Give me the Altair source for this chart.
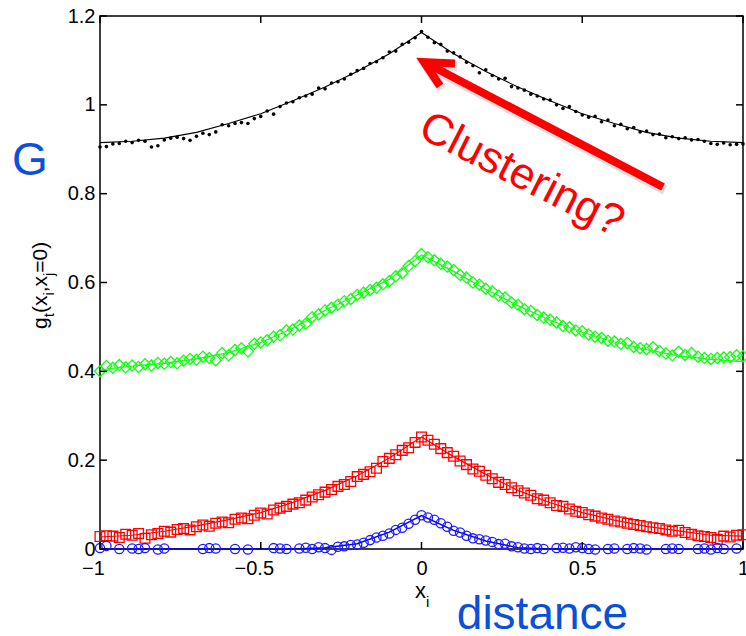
import altair as alt
import pandas as pd

PLOT_W, PLOT_H = 643, 533
FONT = "Liberation Sans"

# ---------------- data ----------------
x_grid = [-1.00, -0.98, -0.96, -0.94, -0.92, -0.90, -0.88, -0.86, -0.84, -0.82,
          -0.80, -0.78, -0.76, -0.74, -0.72, -0.70, -0.68, -0.66, -0.64, -0.62,
          -0.60, -0.58, -0.56, -0.54, -0.52, -0.50, -0.48, -0.46, -0.44, -0.42,
          -0.40, -0.38, -0.36, -0.34, -0.32, -0.30, -0.28, -0.26, -0.24, -0.22,
          -0.20, -0.18, -0.16, -0.14, -0.12, -0.10, -0.08, -0.06, -0.04, -0.02,
          0.00,
          0.02, 0.04, 0.06, 0.08, 0.10, 0.12, 0.14, 0.16, 0.18, 0.20,
          0.22, 0.24, 0.26, 0.28, 0.30, 0.32, 0.34, 0.36, 0.38, 0.40,
          0.42, 0.44, 0.46, 0.48, 0.50, 0.52, 0.54, 0.56, 0.58, 0.60,
          0.62, 0.64, 0.66, 0.68, 0.70, 0.72, 0.74, 0.76, 0.78, 0.80,
          0.82, 0.84, 0.86, 0.88, 0.90, 0.92, 0.94, 0.96, 0.98, 1.00]

black_dots = [0.905, 0.906, 0.912, 0.913, 0.918, 0.915, 0.920, 0.918, 0.905, 0.908,
              0.921, 0.925, 0.927, 0.924, 0.920, 0.929, 0.936, 0.933, 0.939, 0.955,
              0.953, 0.958, 0.960, 0.958, 0.969, 0.974, 0.986, 0.979, 0.996, 1.004,
              1.007, 1.016, 1.020, 1.024, 1.038, 1.036, 1.049, 1.052, 1.058, 1.069,
              1.077, 1.082, 1.093, 1.097, 1.106, 1.119, 1.121, 1.136, 1.141, 1.151,
              1.165,
              1.152, 1.140, 1.136, 1.121, 1.117, 1.108, 1.096, 1.088, 1.072, 1.079,
              1.066, 1.058, 1.060, 1.041, 1.038, 1.033, 1.024, 1.020, 1.013, 1.011,
              1.000, 0.992, 0.996, 0.985, 0.977, 0.972, 0.974, 0.962, 0.966, 0.953,
              0.956, 0.946, 0.949, 0.939, 0.941, 0.933, 0.934, 0.926, 0.928, 0.924,
              0.926, 0.921, 0.922, 0.918, 0.913, 0.911, 0.914, 0.910, 0.911, 0.912]

green_diamonds = [0.400, 0.412, 0.408, 0.414, 0.409, 0.413, 0.410, 0.416, 0.413, 0.419,
                  0.417, 0.421, 0.418, 0.424, 0.428, 0.426, 0.433, 0.430, 0.425, 0.441,
                  0.436, 0.448, 0.452, 0.445, 0.462, 0.465, 0.470, 0.478, 0.481, 0.492,
                  0.494, 0.503, 0.507, 0.522, 0.528, 0.537, 0.543, 0.550, 0.558, 0.563,
                  0.572, 0.577, 0.583, 0.588, 0.596, 0.603, 0.614, 0.621, 0.637, 0.648,
                  0.664,
                  0.657, 0.650, 0.642, 0.636, 0.628, 0.617, 0.611, 0.600, 0.595, 0.586,
                  0.580, 0.570, 0.566, 0.555, 0.550, 0.540, 0.536, 0.527, 0.521, 0.516,
                  0.510, 0.502, 0.499, 0.492, 0.490, 0.483, 0.478, 0.475, 0.469, 0.467,
                  0.462, 0.464, 0.455, 0.452, 0.450, 0.454, 0.446, 0.440, 0.436, 0.444,
                  0.437, 0.441, 0.433, 0.430, 0.428, 0.430, 0.431, 0.432, 0.436, 0.434]

red_squares = [0.028, 0.030, 0.029, 0.026, 0.033, 0.031, 0.035, 0.024, 0.032, 0.035,
               0.040, 0.038, 0.044, 0.046, 0.043, 0.050, 0.054, 0.051, 0.058, 0.061,
               0.059, 0.067, 0.070, 0.068, 0.076, 0.081, 0.079, 0.088, 0.092, 0.096,
               0.101, 0.104, 0.110, 0.117, 0.122, 0.128, 0.134, 0.141, 0.145, 0.152,
               0.163, 0.168, 0.174, 0.182, 0.197, 0.204, 0.212, 0.222, 0.228, 0.240,
               0.252,
               0.245, 0.236, 0.226, 0.217, 0.209, 0.198, 0.190, 0.180, 0.175, 0.166,
               0.158, 0.150, 0.145, 0.138, 0.131, 0.126, 0.121, 0.113, 0.110, 0.104,
               0.098, 0.096, 0.090, 0.085, 0.082, 0.077, 0.074, 0.070, 0.067, 0.063,
               0.061, 0.058, 0.055, 0.053, 0.050, 0.048, 0.046, 0.043, 0.040, 0.042,
               0.037, 0.033, 0.030, 0.028, 0.026, 0.022, 0.029, 0.027, 0.031, 0.032]

blue_x = [-1.00, -0.98, -0.94, -0.90, -0.88, -0.86, -0.82, -0.80, -0.68, -0.66,
          -0.64, -0.58, -0.54, -0.46, -0.44, -0.42, -0.38, -0.36, -0.34, -0.32,
          -0.30, -0.28, -0.26, -0.24, -0.22, -0.20, -0.18, -0.16, -0.14, -0.12,
          -0.10, -0.08, -0.06, -0.04, -0.02, 0.00, 0.02, 0.04, 0.06, 0.08,
          0.10, 0.12, 0.14, 0.16, 0.18, 0.20, 0.22, 0.24, 0.26, 0.28,
          0.30, 0.32, 0.34, 0.36, 0.38, 0.42, 0.44, 0.46, 0.48, 0.50,
          0.52, 0.54, 0.58, 0.60, 0.64, 0.66, 0.68, 0.70, 0.76, 0.78,
          0.80, 0.86, 0.88, 0.90, 0.92, 0.94, 0.98]
blue_y = [0.002, 0.007, 0.000, 0.001, 0.000, 0.002, -0.001, 0.001, 0.000, 0.002,
          0.001, 0.000, -0.001, 0.002, 0.001, 0.000, 0.001, 0.003, 0.000, 0.004,
          0.002, -0.002, 0.005, 0.006, 0.009, 0.010, 0.014, 0.020, 0.026, 0.030,
          0.035, 0.043, 0.048, 0.057, 0.066, 0.076, 0.071, 0.066, 0.058, 0.050,
          0.041, 0.037, 0.030, 0.024, 0.022, 0.019, 0.016, 0.011, 0.012, 0.006,
          0.004, 0.001, 0.000, 0.002, 0.000, 0.002, 0.003, 0.001, 0.004, 0.002,
          0.000, -0.001, 0.000, 0.001, 0.000, 0.002, 0.001, -0.001, 0.000, 0.001,
          0.000, 0.000, 0.001, -0.001, 0.002, 0.000, 0.001]

fit_x = [-1.0, -0.9, -0.8, -0.7, -0.6, -0.5, -0.4, -0.3, -0.2, -0.1, 0.0,
         0.1, 0.2, 0.3, 0.4, 0.5, 0.6, 0.7, 0.8, 0.9, 1.0]
fit_black = [0.915, 0.918, 0.925, 0.938, 0.958, 0.980, 1.009, 1.040, 1.075, 1.115, 1.163,
             1.115, 1.075, 1.040, 1.009, 0.980, 0.958, 0.938, 0.925, 0.918, 0.915]
fit_green = [0.403, 0.412, 0.418, 0.428, 0.442, 0.465, 0.497, 0.537, 0.572, 0.607, 0.662,
             0.625, 0.585, 0.548, 0.515, 0.488, 0.466, 0.449, 0.435, 0.427, 0.422]
fit_red = [0.027, 0.031, 0.040, 0.052, 0.066, 0.082, 0.105, 0.132, 0.165, 0.205, 0.252,
           0.208, 0.168, 0.132, 0.104, 0.082, 0.065, 0.051, 0.041, 0.031, 0.029]
fit_blue = [0.000, 0.000, 0.000, 0.000, 0.000, 0.000, 0.000, 0.003, 0.012, 0.038, 0.075,
            0.042, 0.018, 0.003, 0.000, 0.000, 0.000, 0.000, 0.000, 0.000, 0.000]

x_ticks = [-1, -0.5, 0, 0.5, 1]
y_ticks = [0, 0.2, 0.4, 0.6, 0.8, 1.0, 1.2]

# annotations (in data units)
ylabel_parts = ["g", "t", "(x", "i", ",x", "j", "=0)"]
ylabel_sizes = [21, 15, 21, 15, 21, 15, 21]
ylabel_x = [-1.1664, -1.1446, -1.1664, -1.1446, -1.1664, -1.1446, -1.1664]
ylabel_y = [0.4953, 0.5217, 0.5311, 0.5705, 0.5779, 0.6146, 0.6221]

xlabel_parts = ["x", "i"]
xlabel_sizes = [22, 15]
xlabel_x = [-0.0202, 0.0140]
xlabel_y = [-0.1103, -0.1306]

arrow_shaft_x = [0.7512, 0.0202]
arrow_shaft_y = [0.8150, 1.0919]
arrow_head_x = [0.1042, 0.0078, 0.0575]
arrow_head_y = [1.0931, 1.0964, 1.0424]

# ---------------- chart ----------------
xs = alt.Scale(domain=[-1, 1], nice=False, zero=False)
ys = alt.Scale(domain=[0, 1.2], nice=False, zero=False)

x_axis = alt.Axis(values=x_ticks, labelExpr="format(datum.value, '~g')", ticks=False,
                  domain=False, grid=False, title=None, labelFontSize=20, labelPadding=9,
                  labelFlush=False, labelOverlap=False, labelColor="black", labelFont=FONT,
                  labelOffset={"condition": {"test": "datum.value < 0", "value": -7}, "value": 0})
y_axis = alt.Axis(values=y_ticks, labelExpr="format(datum.value, '~g')", ticks=False,
                  domain=False, grid=False, title=None, labelFontSize=20, labelPadding=5,
                  labelFlush=False, labelOverlap=False, labelColor="black", labelFont=FONT)


def X(f):
    return alt.X(f, scale=xs, axis=x_axis)


def Y(f):
    return alt.Y(f, scale=ys, axis=y_axis)


marks_df = pd.DataFrame({"x": x_grid, "black": black_dots, "green": green_diamonds, "red": red_squares})
fit_df = pd.DataFrame({"x": fit_x, "black": fit_black, "green": fit_green, "red": fit_red, "blue": fit_blue})
blue_df = pd.DataFrame({"x": blue_x, "y": blue_y})

GREEN, RED, BLUE = "#11ff11", "#ff0000", "#1a1aff"

layers = []
# fitted lines
layers.append(alt.Chart(fit_df).mark_line(color=GREEN, strokeWidth=1.2).encode(x=X("x:Q"), y=Y("green:Q")))
layers.append(alt.Chart(fit_df).mark_line(color=RED, strokeWidth=1.2).encode(x=X("x:Q"), y=Y("red:Q")))
layers.append(alt.Chart(fit_df).mark_line(color="#0000ee", strokeWidth=1.5).encode(x=X("x:Q"), y=Y("blue:Q")))
layers.append(alt.Chart(fit_df).mark_line(color="black", strokeWidth=1.1).encode(x=X("x:Q"), y=Y("black:Q")))
# markers
layers.append(alt.Chart(marks_df).mark_point(shape="diamond", filled=False, color=GREEN, size=125,
                                             strokeWidth=1.3, opacity=1).encode(x=X("x:Q"), y=Y("green:Q")))
layers.append(alt.Chart(marks_df).mark_point(shape="square", filled=False, color=RED, size=95,
                                             strokeWidth=1.3, opacity=1).encode(x=X("x:Q"), y=Y("red:Q")))
layers.append(alt.Chart(blue_df).mark_point(shape="circle", filled=False, color=BLUE, size=85,
                                            strokeWidth=1.3, opacity=1).encode(x=X("x:Q"), y=Y("y:Q")))
layers.append(alt.Chart(marks_df).mark_point(shape="circle", filled=True, color="black", size=13,
                                             opacity=1).encode(x=X("x:Q"), y=Y("black:Q")))

# inward ticks on all four sides
yt_df = pd.DataFrame({"t": y_ticks})
xt_df = pd.DataFrame({"t": x_ticks})
layers.append(alt.Chart(yt_df).mark_rule(color="black", strokeWidth=1.5).encode(
    y=Y("t:Q"), x=alt.value(0), x2=alt.value(7)))
layers.append(alt.Chart(yt_df).mark_rule(color="black", strokeWidth=1.5).encode(
    y=Y("t:Q"), x=alt.value(PLOT_W - 7), x2=alt.value(PLOT_W)))
layers.append(alt.Chart(xt_df).mark_rule(color="black", strokeWidth=1.5).encode(
    x=X("t:Q"), y=alt.value(PLOT_H - 7), y2=alt.value(PLOT_H)))
layers.append(alt.Chart(xt_df).mark_rule(color="black", strokeWidth=1.5).encode(
    x=X("t:Q"), y=alt.value(0), y2=alt.value(7)))

# y-axis title with subscripts (rotated)
for t, s, xv, yv in zip(ylabel_parts, ylabel_sizes, ylabel_x, ylabel_y):
    layers.append(alt.Chart(pd.DataFrame({"x": [xv], "y": [yv], "t": [t]})).mark_text(
        angle=270, align="left", baseline="alphabetic", fontSize=s, font=FONT, color="black"
    ).encode(x=X("x:Q"), y=Y("y:Q"), text="t:N"))

# x-axis title with subscript
for t, s, xv, yv in zip(xlabel_parts, xlabel_sizes, xlabel_x, xlabel_y):
    layers.append(alt.Chart(pd.DataFrame({"x": [xv], "y": [yv], "t": [t]})).mark_text(
        align="left", baseline="alphabetic", fontSize=s, font=FONT, color="black"
    ).encode(x=X("x:Q"), y=Y("y:Q"), text="t:N"))

# big annotation words
ANN_BLUE = "#0a50d8"
layers.append(alt.Chart(pd.DataFrame({"x": [-1.2177], "y": [0.842], "t": ["G"]})).mark_text(
    align="center", baseline="alphabetic", fontSize=46, font=FONT, color=ANN_BLUE
).encode(x=X("x:Q"), y=Y("y:Q"), text="t:N"))
layers.append(alt.Chart(pd.DataFrame({"x": [0.3763], "y": [-0.1801], "t": ["distance"]})).mark_text(
    align="center", baseline="alphabetic", fontSize=46, font=FONT, color=ANN_BLUE
).encode(x=X("x:Q"), y=Y("y:Q"), text="t:N"))
layers.append(alt.Chart(pd.DataFrame({"x": [0.311], "y": [0.842], "t": ["Clustering?"]})).mark_text(
    align="center", baseline="middle", angle=27, fontSize=44, font=FONT, color=RED
).encode(x=X("x:Q"), y=Y("y:Q"), text="t:N"))

# arrow (with soft shadow)
shadow_dx, shadow_dy = 0.0062, -0.0068
shaft_df = pd.DataFrame({"x": arrow_shaft_x, "y": arrow_shaft_y, "o": [0, 1]})
head_df = pd.DataFrame({"x": arrow_head_x, "y": arrow_head_y, "o": [0, 1, 2]})
shaft_sh = pd.DataFrame({"x": [v + shadow_dx for v in arrow_shaft_x],
                         "y": [v + shadow_dy for v in arrow_shaft_y], "o": [0, 1]})
head_sh = pd.DataFrame({"x": [v + shadow_dx for v in arrow_head_x],
                        "y": [v + shadow_dy for v in arrow_head_y], "o": [0, 1, 2]})
for d, col, w, op in [(shaft_sh, "#555555", 10, 0.18), (head_sh, "#555555", 10, 0.18),
                      (shaft_df, RED, 8, 1), (head_df, RED, 8, 1)]:
    layers.append(alt.Chart(d).mark_line(color=col, strokeWidth=w, opacity=op, strokeCap="butt",
                                         strokeJoin="miter", strokeMiterLimit=10).encode(
        x=X("x:Q"), y=Y("y:Q"), order="o:Q"))

chart = alt.layer(*layers).properties(
    width=PLOT_W, height=PLOT_H,
    autosize=alt.AutoSizeParams(type="none"),
    padding={"left": 100, "top": 16, "right": 3, "bottom": 87},
    background="white",
).configure_view(stroke="black", strokeWidth=1.5).configure_text(font=FONT)

chart.save("out.html", embed_options={"renderer": "svg", "actions": False})
